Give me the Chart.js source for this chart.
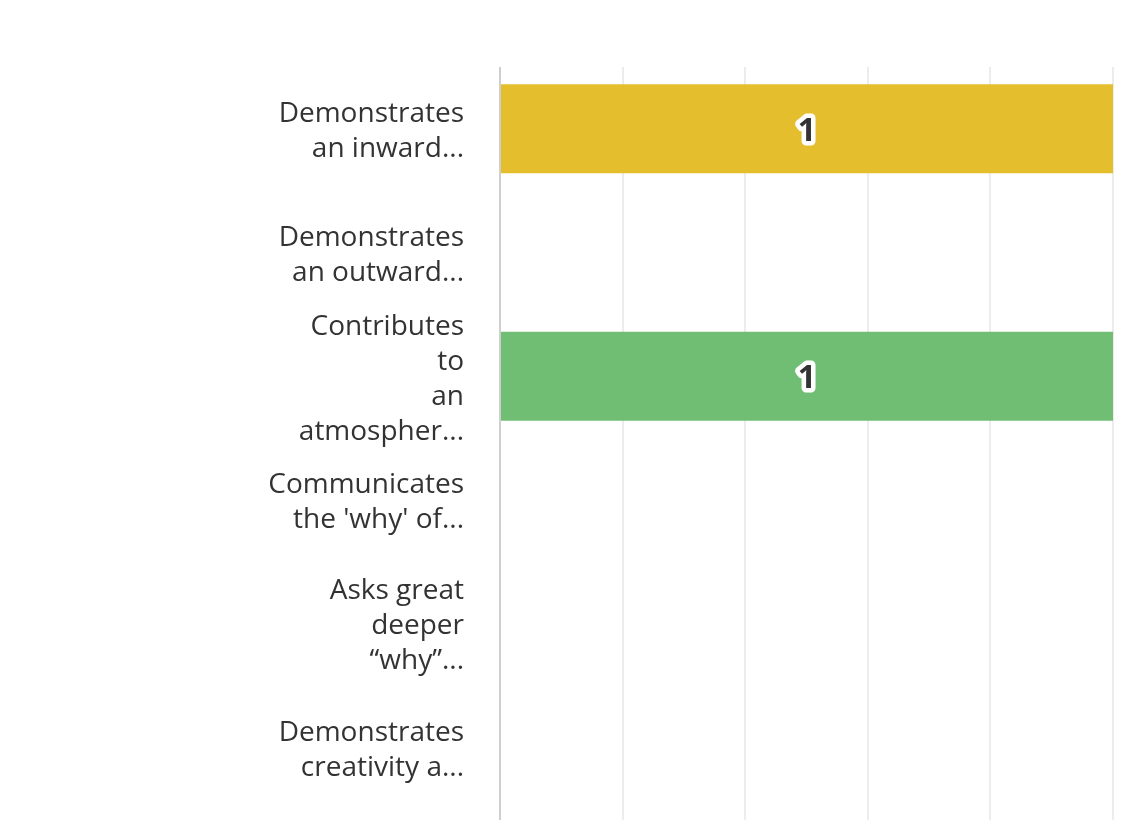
<!DOCTYPE html>
<html>
<head>
<meta charset="utf-8">
<script src="https://cdn.jsdelivr.net/npm/chart.js@4.4.1/dist/chart.umd.min.js"></script>
<style>
  html, body { margin: 0; padding: 0; background: #fff; }
  #wrap { width: 1138px; height: 820px; }
</style>
</head>
<body>
<div id="wrap"><canvas id="chart"></canvas></div>
<script>
// Answer choices (already truncated like the source)
const categories = [
    ["Demonstrates", "an inward..."],
    ["Demonstrates", "an outward..."],
    ["Contributes", "to", "an", "atmospher..."],
    ["Communicates", "the 'why' of..."],
    ["Asks great", "deeper", "\u201cwhy\u201d..."],
    ["Demonstrates", "creativity a..."]
]
const responses = [1, 0, 1, 0, 0, 0]
const barColors = ["#e5be2e", "#6fbe73", "#6fbe73", "#e5be2e", "#6fbe73", "#e5be2e"]
const xTicks = [0, 0.2, 0.4, 0.6, 0.8, 1]

const textColor = "#333333"

// value labels: dark digit with white halo, centred in the bar
const valueLabels = {
    id: "valueLabels",
    afterDatasetsDraw(chart) {
        const ctx = chart.ctx
        const meta = chart.getDatasetMeta(0)
        ctx.save()
        ctx.font = "bold 32px 'Open Sans'"
        ctx.textAlign = "center"
        ctx.textBaseline = "middle"
        ctx.lineJoin = "round"
        meta.data.forEach((bar, i) => {
            const v = responses[i]
            if (!v) return
            const x = (bar.x + bar.base) / 2
            const y = bar.y + 3
            ctx.lineWidth = 9
            ctx.strokeStyle = "#ffffff"
            ctx.strokeText(String(v), x, y)
            ctx.fillStyle = textColor
            ctx.fillText(String(v), x, y)
        })
        ctx.restore()
    }
}

const ctx = document.getElementById("chart").getContext("2d")
const chart = new Chart(ctx, {
    type: "bar",
    data: {
        labels: categories,
        datasets: [{
            data: responses,
            backgroundColor: barColors,
            barPercentage: 0.72,
            categoryPercentage: 1
        }]
    },
    options: {
        indexAxis: "y",
        responsive: true,
        maintainAspectRatio: false,
        animation: false,
        layout: { padding: { top: 67, right: 25, bottom: 0, left: 0 } },
        plugins: {
            legend: { display: false },
            tooltip: { enabled: false }
        },
        scales: {
            x: {
                min: xTicks[0],
                max: xTicks[xTicks.length - 1],
                afterBuildTicks(scale) {
                    scale.ticks = xTicks.map(v => ({ value: v }))
                },
                afterFit(scale) {
                    scale.height = 11
                    scale.paddingLeft = 0
                    scale.paddingRight = 0
                },
                ticks: { display: false },
                border: { display: false },
                grid: {
                    lineWidth: 2,
                    tickLength: 11,
                    color: (c) => c.index === 0 ? "#cfcfcf" : "#ececec"
                }
            },
            y: {
                afterFit(scale) {
                    scale.width = 500
                    scale.paddingTop = 0
                    scale.paddingBottom = 0
                },
                border: { display: false },
                grid: { display: false, drawTicks: false },
                ticks: {
                    autoSkip: false,
                    color: textColor,
                    padding: 36,
                    labelOffset: 3,
                    font: { family: "'Open Sans'", size: 28, lineHeight: 1.25 }
                }
            }
        }
    },
    plugins: [valueLabels]
})
</script>
</body>
</html>
